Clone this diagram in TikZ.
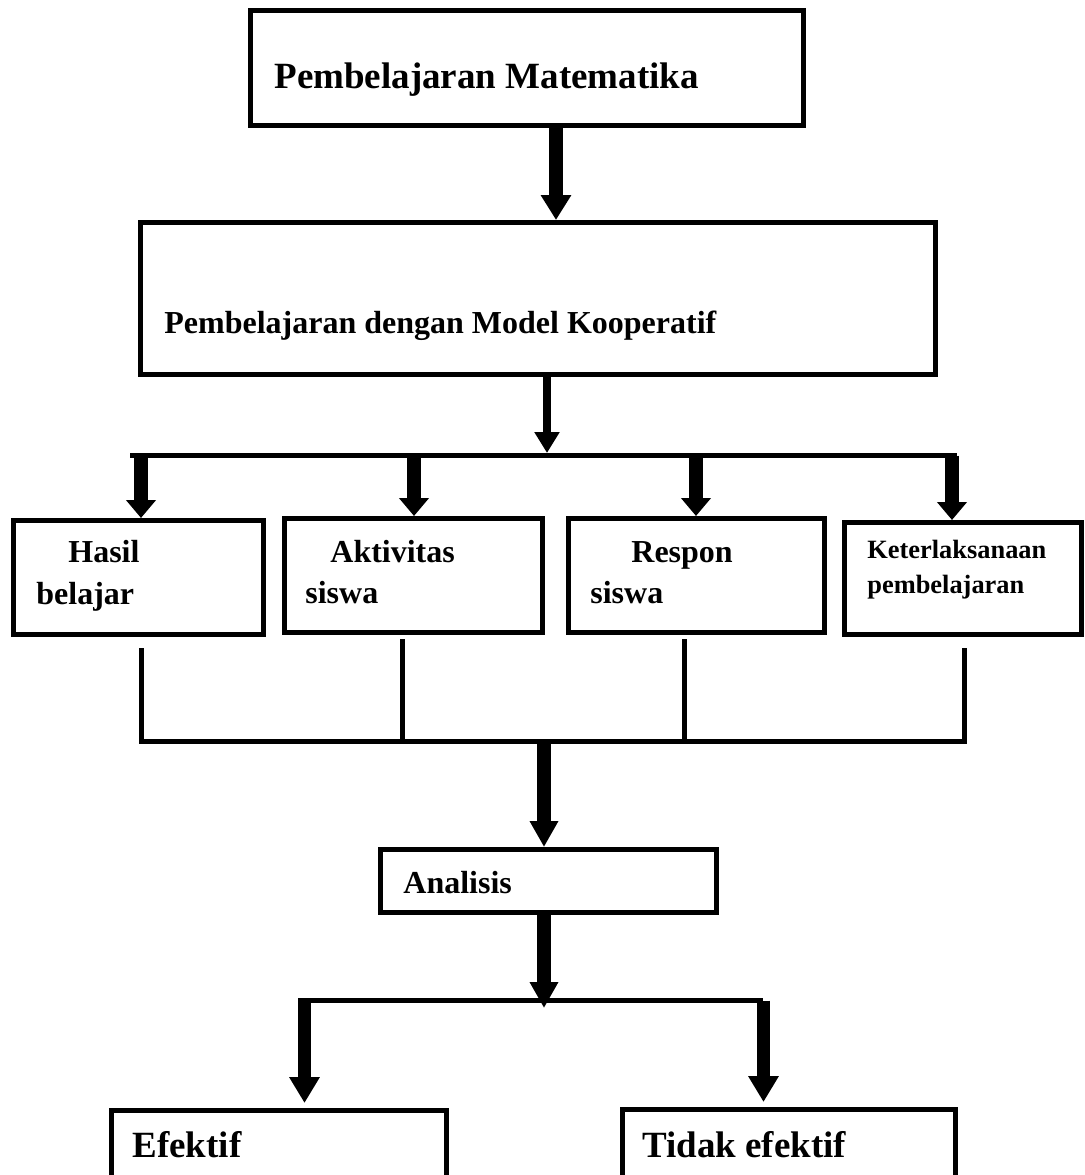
\documentclass[tikz,border=0pt]{standalone}
\usepackage{fontspec}
\setmainfont{Liberation Serif}
\usetikzlibrary{arrows.meta,calc}
\begin{document}
\begin{tikzpicture}[x=0.5pt,y=-0.5pt,
  box/.style={draw, line width=2.5pt, rectangle, inner sep=0pt},
  lbl/.style={anchor=base west, inner sep=0pt, font=\bfseries\fontsize{16}{19}\selectfont},
  lblbig/.style={lbl, font=\bfseries\fontsize{18.5}{22}\selectfont},
  lblsmall/.style={lbl, font=\bfseries\fontsize{13.2}{16}\selectfont},
  bar/.style={line width=2.5pt},
  arrowA/.style={line width=7pt, -{Triangle[width=14.5pt,length=12.5pt]}},
  arrowB/.style={line width=4pt, -{Triangle[width=12pt,length=10.5pt]}},
  arrowC/.style={line width=7pt, -{Triangle[width=14.5pt,length=9pt]}},
  arrowD/.style={line width=7pt, -{Triangle[width=13.5pt,length=13pt]}},
  arrowE/.style={line width=6.5pt, -{Triangle[width=14.5pt,length=13pt]}}
]
\clip (0,0) rectangle (1085,1175);
\fill[white] (0,0) rectangle (1085,1175);

% boxes
\node[box, minimum width=276.5pt, minimum height=57.5pt] (b1) at (527,68) {};
\node[box, minimum width=397.5pt, minimum height=76pt] (b2) at (538,298.5) {};
\node[box, minimum width=125pt, minimum height=57pt] (hasil) at (138.5,577.5) {};
\node[box, minimum width=129pt, minimum height=57pt] (akt) at (413.5,575.5) {};
\node[box, minimum width=128pt, minimum height=57pt] (resp) at (696.5,575.5) {};
\node[box, minimum width=118.5pt, minimum height=56pt] (keter) at (963,578.5) {};
\node[box, minimum width=168pt, minimum height=31.5pt] (anal) at (548.5,881) {};
\node[box, minimum width=167.5pt, minimum height=44.5pt] (ef) at (279,1155) {};
\node[box, minimum width=166.5pt, minimum height=44.5pt] (tef) at (789,1154) {};

% texts
\node[lblbig] (t1) at (274,88) {Pembelajaran Matematika};
\node[lbl] (t2) at (164,333) {Pembelajaran dengan Model Kooperatif};
\node[lbl] (t3a) at (68,562) {Hasil};
\node[lbl] (t3b) at (36,604) {belajar};
\node[lbl] (t4a) at (330,562) {Aktivitas};
\node[lbl] (t4b) at (305,603) {siswa};
\node[lbl] (t5a) at (631,562) {Respon};
\node[lbl] (t5b) at (590,603) {siswa};
\node[lblsmall] (t6a) at (867,558) {Keterlaksanaan};
\node[lblsmall] (t6b) at (867,593) {pembelajaran};
\node[lbl] (t7) at (403,893) {Analisis};
\node[lblbig] (t8) at (132,1157) {Efektif};
\node[lblbig] (t9) at (642,1157) {Tidak efektif};

% coordinates
\coordinate (xA) at (556,0);
\coordinate (xB) at (547,0);
\coordinate (bar1L) at (130,455.5);
\coordinate (bar1R) at (957,455.5);
\coordinate (bar1top) at (547,453);
\coordinate (xH) at (141,0);
\coordinate (xAk) at (414,0);
\coordinate (xR) at (696,0);
\coordinate (xK) at (952,0);
\coordinate (bar2L) at (141,741);
\coordinate (bar2R) at (964,741);
\coordinate (xAk2) at (402,0);
\coordinate (xR2) at (684,0);
\coordinate (xD) at (544,0);
\coordinate (tip4) at (544,1008);
\coordinate (bar3L) at (298,1000.5);
\coordinate (bar3R) at (763,1000.5);
\coordinate (xL) at (304.5,0);
\coordinate (xRR) at (763.5,0);

% connectors
\draw[arrowA] (b1.south -| xA) -- (b2.north -| xA);
\draw[arrowB] (b2.south -| xB) -- (bar1top);
\draw[bar] (bar1L) -- (bar1R);
\draw[arrowC] (bar1L -| xH) -- (hasil.north -| xH);
\draw[arrowC] (bar1L -| xAk) -- (akt.north -| xAk);
\draw[arrowC] (bar1L -| xR) -- (resp.north -| xR);
\draw[arrowC] (bar1L -| xK) -- (keter.north -| xK);

\draw[bar] ($(hasil.south -| bar2L)+(0,11)$) |- (bar2R) -- ($(keter.south -| bar2R)+(0,11)$);
\draw[bar] ($(akt.south -| xAk2)+(0,4)$) -- (bar2L -| xAk2);
\draw[bar] ($(resp.south -| xR2)+(0,4)$) -- (bar2L -| xR2);

\draw[arrowD] (bar2L -| xD) -- (anal.north -| xD);
\draw[arrowD] (anal.south -| xD) -- (tip4);
\draw[bar] (bar3L) -- (bar3R);
\draw[arrowE, shorten >=2.5pt] (bar3L -| xL) -- (ef.north -| xL);
\draw[arrowE, shorten >=2.5pt] (bar3L -| xRR) -- (tef.north -| xRR);
\end{tikzpicture}
\end{document}
